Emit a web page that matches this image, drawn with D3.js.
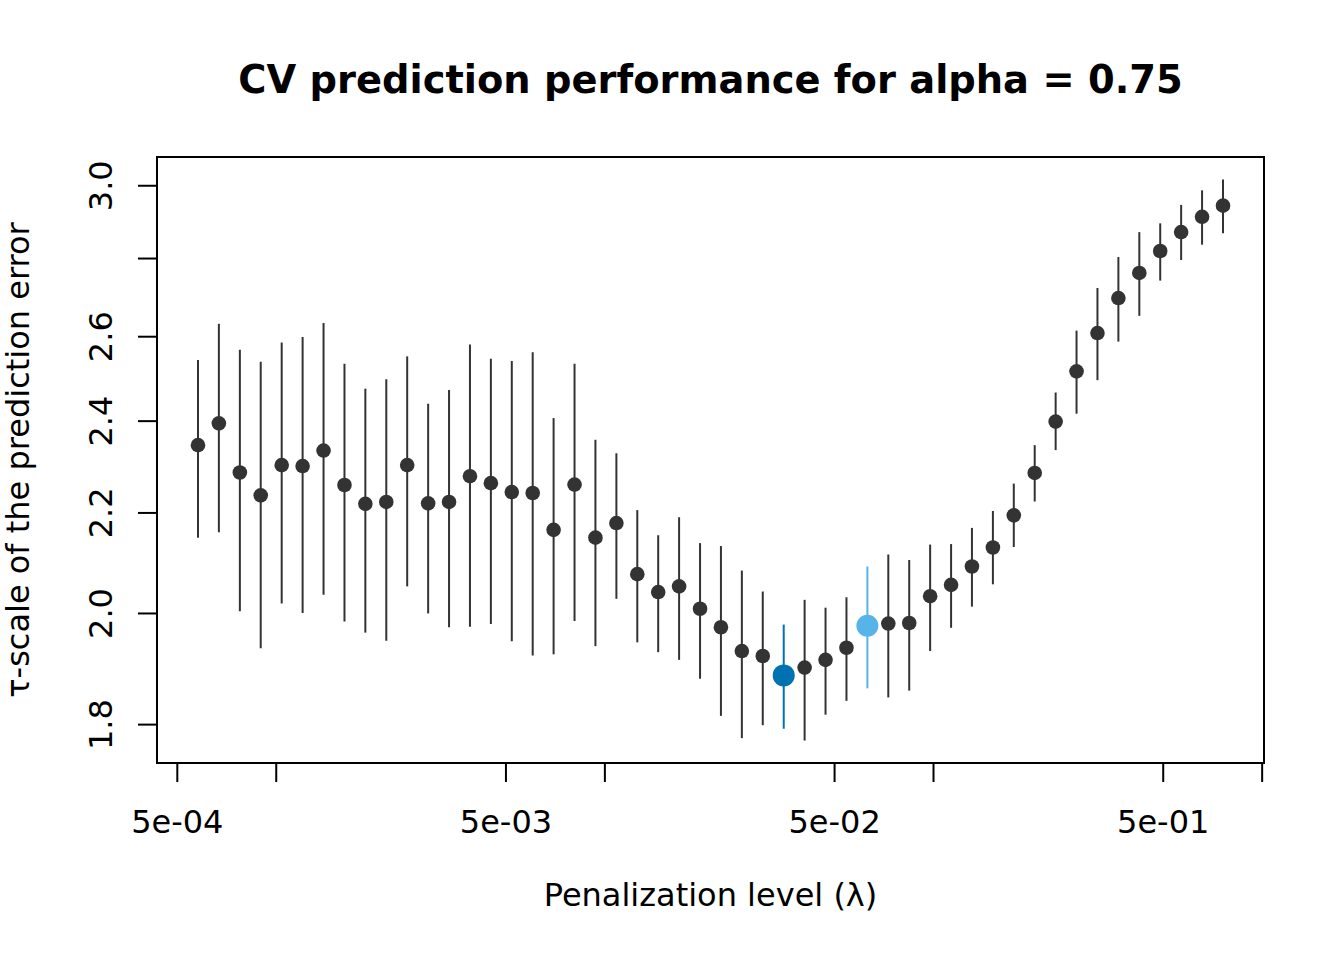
<!DOCTYPE html>
<html>
<head>
<meta charset="utf-8">
<script src="https://cdn.jsdelivr.net/npm/d3@7"></script>
<style>
  html, body { margin: 0; padding: 0; background: #ffffff; }
  svg { display: block; }
  text { font-family: "DejaVu Sans", sans-serif; fill: #000000; }
</style>
</head>
<body>
<svg id="chart" width="1344" height="960"></svg>
<script>
// ---- data ----
const lambda = [5.78e-4, 6.69e-4, 7.75e-4, 8.97e-4, 1.039e-3, 1.203e-3, 1.393e-3, 1.613e-3, 1.867e-3, 2.162e-3,
  2.503e-3, 2.899e-3, 3.356e-3, 3.886e-3, 4.499e-3, 5.209e-3, 6.031e-3, 6.982e-3, 8.085e-3, 9.36e-3,
  1.084e-2, 1.255e-2, 1.453e-2, 1.682e-2, 1.948e-2, 2.255e-2, 2.611e-2, 3.023e-2, 3.501e-2, 4.053e-2,
  4.693e-2, 5.434e-2, 6.292e-2, 7.285e-2, 8.435e-2, 9.766e-2, 0.1131, 0.1309, 0.1516, 0.1755,
  0.2032, 0.2353, 0.2724, 0.3154, 0.3652, 0.4229, 0.4896, 0.5669, 0.6564, 0.7601];

const tauScale = [2.346, 2.395, 2.286, 2.237, 2.302, 2.300, 2.334, 2.259, 2.219, 2.223,
  2.302, 2.220, 2.223, 2.278, 2.263, 2.244, 2.242, 2.165, 2.260, 2.149,
  2.179, 2.076, 2.041, 2.052, 2.009, 1.974, 1.930, 1.921, 1.886, 1.900,
  1.914, 1.936, 1.977, 1.981, 1.982, 2.033, 2.055, 2.091, 2.129, 2.195,
  2.285, 2.399, 2.516, 2.609, 2.697, 2.762, 2.820, 2.871, 2.913, 2.944];

const upper = [2.543, 2.632, 2.568, 2.539, 2.586, 2.599, 2.634, 2.534, 2.475, 2.497,
  2.552, 2.440, 2.472, 2.581, 2.546, 2.541, 2.562, 2.407, 2.534, 2.358,
  2.328, 2.206, 2.154, 2.191, 2.138, 2.132, 2.083, 2.042, 1.979, 2.026,
  2.011, 2.031, 2.091, 2.115, 2.104, 2.135, 2.136, 2.169, 2.204, 2.262,
  2.346, 2.466, 2.615, 2.723, 2.804, 2.871, 2.895, 2.946, 2.987, 3.018];

const lower = [2.149, 2.160, 2.004, 1.935, 2.019, 2.001, 2.036, 1.985, 1.964, 1.949,
  2.052, 2.000, 1.974, 1.975, 1.980, 1.948, 1.922, 1.924, 1.986, 1.939,
  2.028, 1.946, 1.928, 1.914, 1.880, 1.815, 1.777, 1.799, 1.793, 1.773,
  1.817, 1.841, 1.863, 1.847, 1.859, 1.930, 1.973, 2.013, 2.056, 2.130,
  2.224, 2.335, 2.417, 2.495, 2.588, 2.652, 2.742, 2.796, 2.837, 2.868];

const minIndex = 28;   // lambda with minimal error (dark blue)
const seIndex = 32;    // 1-SE lambda (light blue)

const xTicks = [5e-4, 1e-3, 5e-3, 1e-2, 5e-2, 1e-1, 5e-1, 1];
const xTickLabels = ["5e-04", "", "5e-03", "", "5e-02", "", "5e-01", ""];
const yTicks = [1.8, 2.0, 2.2, 2.4, 2.6, 2.8, 3.0];
const yTickLabels = ["1.8", "2.0", "2.2", "2.4", "2.6", "", "3.0"];

const titleText = "CV prediction performance for alpha = 0.75";
const xLabel = "Penalization level (\u03bb)";
const yLabel = "\u03c4-scale of the prediction error";

// ---- layout ----
const W = 1344, H = 960;
const plot = { left: 157, right: 1264, top: 157, bottom: 763 };
const colDark = "#333333", colMin = "#0072B2", colSe = "#56B4E9";

// R-like 4% padding in log space
function padLog(lo, hi) {
  const a = Math.log(lo), b = Math.log(hi), p = (b - a) * 0.04;
  return [Math.exp(a - p), Math.exp(b + p)];
}
const x = d3.scaleLog().domain(padLog(d3.min(lambda), d3.max(lambda))).range([plot.left, plot.right]);
const y = d3.scaleLog().domain(padLog(d3.min(lower), d3.max(upper))).range([plot.bottom, plot.top]);

const svg = d3.select("#chart");

const data = lambda.map((l, i) => ({
  l, v: tauScale[i], lo: lower[i], hi: upper[i],
  col: i === minIndex ? colMin : (i === seIndex ? colSe : colDark),
  r: (i === minIndex || i === seIndex) ? 11 : 7.3
}));

// error bars
svg.append("g").selectAll("line").data(data).join("line")
  .attr("x1", d => x(d.l)).attr("x2", d => x(d.l))
  .attr("y1", d => y(d.lo)).attr("y2", d => y(d.hi))
  .attr("stroke", d => d.col).attr("stroke-width", 2);

// points
svg.append("g").selectAll("circle").data(data).join("circle")
  .attr("cx", d => x(d.l)).attr("cy", d => y(d.v)).attr("r", d => d.r)
  .attr("fill", d => d.col);

// box
svg.append("rect")
  .attr("x", plot.left).attr("y", plot.top)
  .attr("width", plot.right - plot.left).attr("height", plot.bottom - plot.top)
  .attr("fill", "none").attr("stroke", "#000").attr("stroke-width", 2);

// x axis
const gx = svg.append("g");
gx.append("line")
  .attr("x1", x(xTicks[0])).attr("x2", x(xTicks[xTicks.length - 1]))
  .attr("y1", plot.bottom).attr("y2", plot.bottom)
  .attr("stroke", "#000").attr("stroke-width", 2);
gx.selectAll("line.tick").data(xTicks).join("line").attr("class", "tick")
  .attr("x1", d => x(d)).attr("x2", d => x(d))
  .attr("y1", plot.bottom).attr("y2", plot.bottom + 19)
  .attr("stroke", "#000").attr("stroke-width", 2);
gx.selectAll("text").data(xTicks).join("text")
  .attr("x", d => x(d)).attr("y", 833)
  .attr("text-anchor", "middle").attr("font-size", 32)
  .text((d, i) => xTickLabels[i]);

// y axis
const gy = svg.append("g");
gy.append("line")
  .attr("y1", y(yTicks[0])).attr("y2", y(yTicks[yTicks.length - 1]))
  .attr("x1", plot.left).attr("x2", plot.left)
  .attr("stroke", "#000").attr("stroke-width", 2);
gy.selectAll("line.tick").data(yTicks).join("line").attr("class", "tick")
  .attr("y1", d => y(d)).attr("y2", d => y(d))
  .attr("x1", plot.left).attr("x2", plot.left - 19)
  .attr("stroke", "#000").attr("stroke-width", 2);
gy.selectAll("text").data(yTicks).join("text")
  .attr("transform", d => `translate(112,${y(d)}) rotate(-90)`)
  .attr("text-anchor", "middle").attr("font-size", 32)
  .text((d, i) => yTickLabels[i]);

// titles
svg.append("text")
  .attr("x", (plot.left + plot.right) / 2).attr("y", 93)
  .attr("text-anchor", "middle").attr("font-size", 38.4).attr("font-weight", "bold")
  .text(titleText);
svg.append("text")
  .attr("x", (plot.left + plot.right) / 2).attr("y", 906)
  .attr("text-anchor", "middle").attr("font-size", 32)
  .text(xLabel);
svg.append("text")
  .attr("transform", `translate(29,${(plot.top + plot.bottom) / 2}) rotate(-90)`)
  .attr("text-anchor", "middle").attr("font-size", 32)
  .text(yLabel);
</script>
</body>
</html>
